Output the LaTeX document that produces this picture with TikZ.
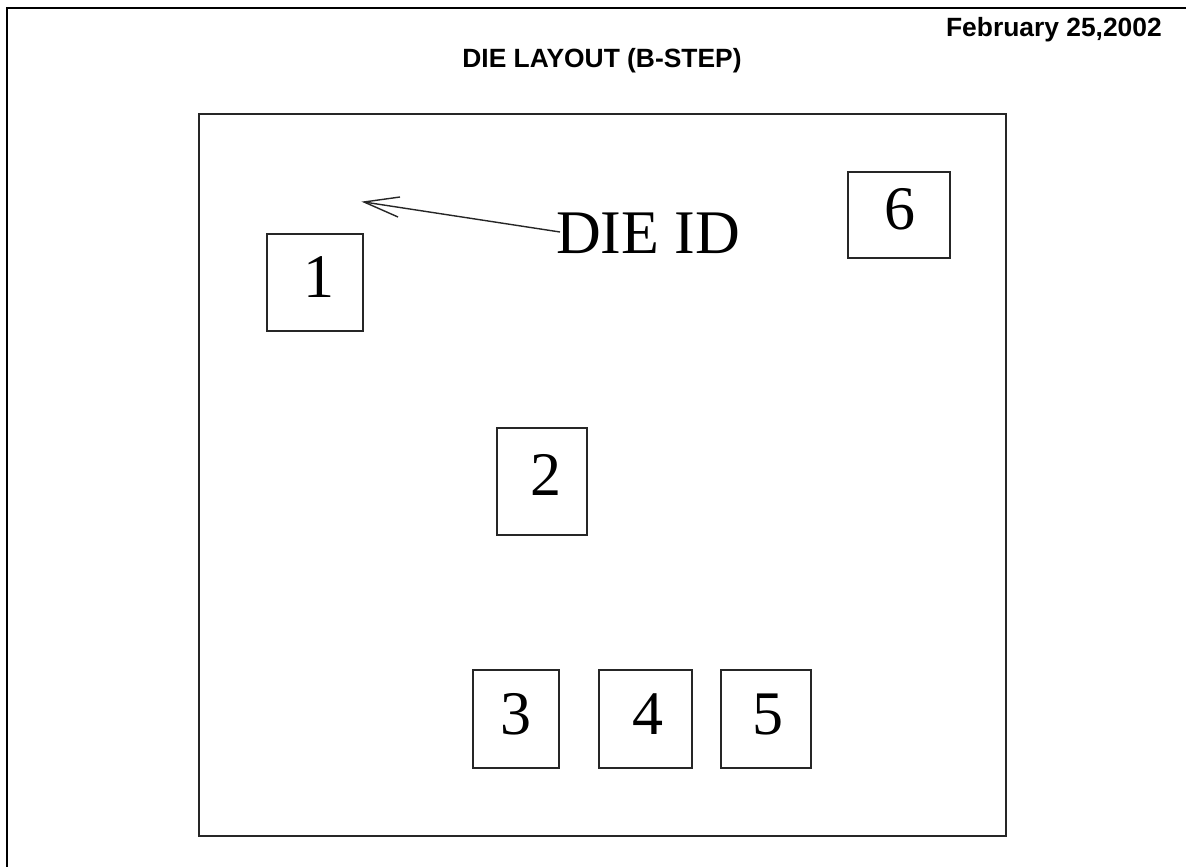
\documentclass[tikz,border=0pt]{standalone}
\usepackage{fontspec}
\setmainfont{Liberation Serif}
\newfontfamily\hdr{Liberation Sans}
\begin{document}
\begin{tikzpicture}[x=1pt,y=-1pt,
  framel/.style={line width=2pt,black},
  boxl/.style={line width=1.4pt,draw=black!85},
  digit/.style={font=\fontsize{62}{62}\selectfont,inner sep=0pt,text=black},
  hd/.style={font=\hdr\bfseries\fontsize{26.4}{26.4}\selectfont,inner sep=0pt,text=black},
  arr/.style={line width=1.4pt,draw=black!85}]
\useasboundingbox (0,0) rectangle (1186,867);
\fill[white] (0,0) rectangle (1186,867);
\coordinate (fa) at (1186,8.5);
\coordinate (fb) at (7,8.5);
\coordinate (fc) at (7,867);
\draw[framel] (fa) -- (fb) -- (fc);
\node[hd,anchor=base east] (date) at (1162,36.5) {February 25,2002};
\node[hd,anchor=base] (title) at (602,68) {DIE LAYOUT (B-STEP)};
\draw[boxl] (199,114) rectangle (1006,836);
\draw[boxl] (267,234) rectangle (363,331);
\draw[boxl] (848,172) rectangle (950,258);
\draw[boxl] (497,428) rectangle (587,535);
\draw[boxl] (473,670) rectangle (559,768);
\draw[boxl] (599,670) rectangle (692,768);
\draw[boxl] (721,670) rectangle (811,768);
\node[digit,anchor=base] (n1) at (319,297) {1};
\node[digit,anchor=base] (n2) at (546,495) {2};
\node[digit,anchor=base] (n3) at (516,734) {3};
\node[digit,anchor=base] (n4) at (648,734) {4};
\node[digit,anchor=base] (n5) at (768,734) {5};
\node[digit,anchor=base] (n6) at (900,229) {6};
\node[digit,anchor=base west] (dieid) at (556,253) {DIE ID};
\coordinate (tip) at (364,202);
\coordinate (b1) at (400,197);
\coordinate (b2) at (398,217);
\draw[arr] ([xshift=4pt]dieid.west |- 0,232) -- (tip);
\draw[arr] (b1) -- (tip) -- (b2);
\end{tikzpicture}
\end{document}
